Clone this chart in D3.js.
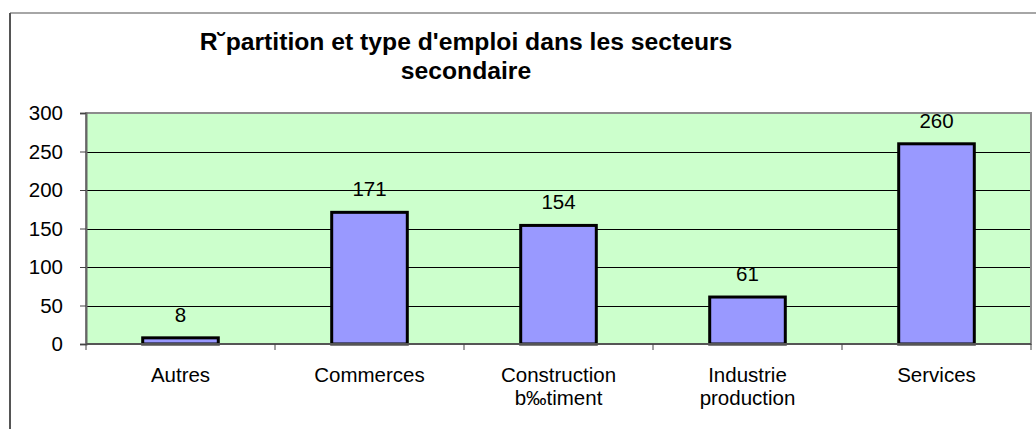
<!DOCTYPE html>
<meta charset="utf-8" />
<html>
<head>
    <style>
        body { margin: 0; background: #fff; }
        text { font-family: Arial, "Liberation Sans", sans-serif; fill: #000; }
        .grid line { stroke: #000; stroke-width: 1; }
    </style>
</head>
<body>
    <svg width="1036" height="429"></svg>
    <script src="https://d3js.org/d3.v7.min.js"></script>
    <script>
        // data
        var categories = ["Autres", "Commerces", "Construction\nb\u2030timent", "Industrie\nproduction", "Services"];
        var values = [8, 171, 154, 61, 260];
        var yTicks = [0, 50, 100, 150, 200, 250, 300];
        var titleLines = ["R\u02d8partition et type d'emploi dans les secteurs", "secondaire"];

        var svg = d3.select("svg");
        var plot = { left: 86, top: 113, right: 1031, bottom: 344 };
        var labelSize = "20.5px";

        // outer chart frame (only top and left edges are in view)
        svg.append("line").attr("x1", 10).attr("x2", 1036).attr("y1", 13).attr("y2", 13)
            .attr("stroke", "#a6a6a6").attr("stroke-width", 2);
        svg.append("line").attr("x1", 10).attr("x2", 10).attr("y1", 13).attr("y2", 429)
            .attr("stroke", "#555").attr("stroke-width", 2);

        // title
        svg.append("text")
            .attr("text-anchor", "middle")
            .style("font-weight", "bold")
            .style("font-size", "24.7px")
            .selectAll("tspan")
            .data(titleLines)
            .enter()
            .append("tspan")
            .attr("x", 466)
            .attr("y", function (d, i) { return 50 + i * 29; })
            .text(function (d) { return d; });

        var x = d3.scaleBand()
            .domain(categories)
            .range([plot.left, plot.right])
            .paddingInner(0.6)
            .paddingOuter(0.3);

        var y = d3.scaleLinear()
            .domain([0, 300])
            .range([plot.bottom, plot.top]);

        // plot background
        svg.append("rect")
            .attr("x", plot.left).attr("y", plot.top)
            .attr("width", plot.right - plot.left).attr("height", plot.bottom - plot.top)
            .attr("fill", "#ccffcc");

        // gridlines
        svg.append("g").attr("class", "grid")
            .selectAll("line")
            .data(yTicks.filter(function (d) { return d > 0 && d < 300; }))
            .enter()
            .append("line")
            .attr("x1", plot.left).attr("x2", plot.right)
            .attr("y1", function (d) { return Math.round(y(d)) + 0.5; })
            .attr("y2", function (d) { return Math.round(y(d)) + 0.5; });

        // plot border
        svg.append("rect")
            .attr("x", plot.left).attr("y", plot.top)
            .attr("width", plot.right - plot.left).attr("height", plot.bottom - plot.top)
            .attr("fill", "none")
            .attr("stroke", "#8c8c8c").attr("stroke-width", 2);

        // bars
        svg.append("g")
            .selectAll("rect")
            .data(values)
            .enter()
            .append("rect")
            .attr("x", function (d, i) { return x(categories[i]); })
            .attr("y", function (d) { return y(d); })
            .attr("width", x.bandwidth())
            .attr("height", function (d) { return y(0) - y(d); })
            .attr("fill", "#9999ff")
            .attr("stroke", "#000")
            .attr("stroke-width", 3);

        // value labels
        svg.append("g")
            .selectAll("text")
            .data(values)
            .enter()
            .append("text")
            .attr("x", function (d, i) { return x(categories[i]) + x.bandwidth() / 2; })
            .attr("y", function (d) { return y(d) - 16; })
            .attr("text-anchor", "middle")
            .style("font-size", labelSize)
            .text(function (d) { return d; });

        // y axis
        var yAxis = svg.append("g")
            .attr("transform", "translate(" + plot.left + ",0)")
            .call(d3.axisLeft(y).tickValues(yTicks).tickSize(6).tickPadding(17));
        yAxis.select(".domain").attr("stroke", "#666").attr("stroke-width", 2);
        yAxis.selectAll(".tick line").attr("stroke", "#444");
        yAxis.selectAll(".tick text")
            .style("font-size", labelSize)
            .style("font-family", "Arial, 'Liberation Sans', sans-serif");

        // x axis: ticks sit between categories
        var bounds = d3.range(categories.length + 1).map(function (i) { return plot.left + i * (plot.right - plot.left) / categories.length; });
        var xAxis = svg.append("g");
        xAxis.append("line")
            .attr("x1", plot.left).attr("x2", plot.right)
            .attr("y1", plot.bottom).attr("y2", plot.bottom)
            .attr("stroke", "#555").attr("stroke-width", 2);
        xAxis.selectAll(".xt")
            .data(bounds)
            .enter()
            .append("line")
            .attr("class", "xt")
            .attr("x1", function (d) { return d; }).attr("x2", function (d) { return d; })
            .attr("y1", plot.bottom).attr("y2", plot.bottom + 6)
            .attr("stroke", "#444");

        xAxis.selectAll(".xl")
            .data(categories)
            .enter()
            .append("text")
            .attr("class", "xl")
            .attr("text-anchor", "middle")
            .style("font-size", labelSize)
            .each(function (d) {
                var t = d3.select(this);
                var cx = x(d) + x.bandwidth() / 2;
                d.split("\n").forEach(function (line, i) {
                    t.append("tspan").attr("x", cx).attr("y", 382 + i * 23).text(line);
                });
            });
    </script>
</body>
</html>
